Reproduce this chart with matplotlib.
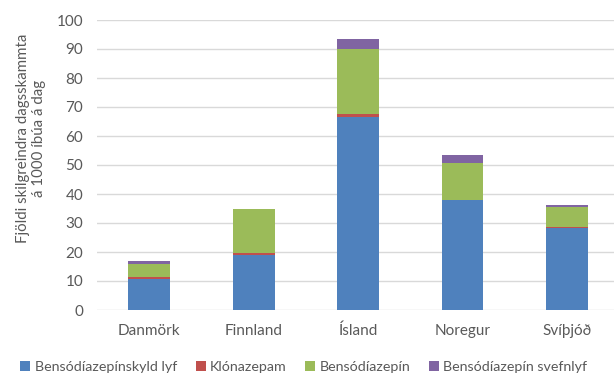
import matplotlib.pyplot as plt
import numpy as np

plt.rcParams['font.family'] = ['Lato', 'DejaVu Sans']

countries = ["Danmörk", "Finnland", "Ísland", "Noregur", "Svíþjóð"]
series_names = ["Bensódíazepínskyld lyf", "Klónazepam", "Bensódíazepín", "Bensódíazepín svefnlyf"]
related = [10.6, 19.0, 66.4, 37.9, 28.4]
clonazepam = [0.9, 0.8, 1.2, 0.2, 0.1]
benzo = [4.4, 14.9, 22.4, 12.5, 7.1]
benzo_sleep = [1.1, 0.1, 3.3, 2.7, 0.7]
colors = ["#4F81BD", "#C0504D", "#9BBB59", "#8064A2"]

fig = plt.figure(figsize=(6.14, 3.74), dpi=100)
ax = fig.add_axes([97 / 614, 64 / 374, 1 - 97 / 614, 290 / 374])

x = np.arange(len(countries))
bottom = np.zeros(len(countries))
for vals, name, c in zip([related, clonazepam, benzo, benzo_sleep], series_names, colors):
    ax.bar(x, vals, width=0.4, bottom=bottom, color=c, label=name, zorder=3)
    bottom += np.array(vals)

ax.set_ylim(0, 100)
ax.set_xlim(-0.5, 4.45)
ax.set_yticks(range(0, 101, 10))
ax.set_xticks(x)
ax.set_xticklabels(countries)
ax.yaxis.grid(True, color="#D9D9D9", linewidth=1, zorder=0)
for s in ax.spines.values():
    s.set_visible(False)
ax.tick_params(axis="both", length=0, colors="#595959", labelsize=11)
ax.tick_params(axis="x", pad=10)
ax.tick_params(axis="y", pad=10)

# y-axis title placed by hand so both lines sit where they should
fig.text(31 / 614, 1 - 138 / 374, "Fjöldi skilgreindra dagsskammta\ná 1000 íbúa á dag",
         rotation=90, ha="center", va="center", multialignment="center",
         color="#595959", fontsize=10.8, linespacing=1.25)

ax.legend(loc="upper center", bbox_to_anchor=(0.40, -0.13), ncol=4, frameon=False,
          fontsize=10.3, handlelength=0.7, handleheight=0.7, handletextpad=0.3,
          columnspacing=1.3, labelcolor="#595959")

fig.savefig("out.png", dpi=100)
